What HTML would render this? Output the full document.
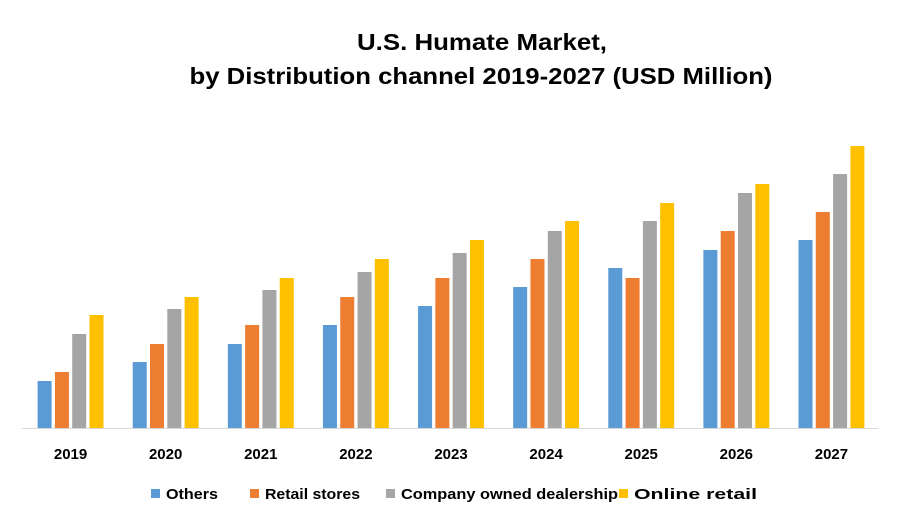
<!DOCTYPE html>
<html><head><meta charset="utf-8"><style>
body{margin:0;background:#fff;font-family:"Liberation Sans",Arial,sans-serif}
</style></head><body>
<svg id="c" width="900" height="525" xmlns="http://www.w3.org/2000/svg">
<text x="482" y="50" text-anchor="middle" font-size="23" font-weight="bold" fill="#000" textLength="250" lengthAdjust="spacingAndGlyphs">U.S. Humate Market,</text>
<text x="481" y="84" text-anchor="middle" font-size="23" font-weight="bold" fill="#000" textLength="583" lengthAdjust="spacingAndGlyphs">by Distribution channel 2019-2027 (USD Million)</text>
<g id="bars"></g>
<line x1="22" y1="428.5" x2="878" y2="428.5" stroke="#d9d9d9" stroke-width="1"/>
<g id="xl"></g>
<g id="lg"></g>
</svg>
<script>
const categories=["2019","2020","2021","2022","2023","2024","2025","2026","2027"];
const others=[47,66,84,103,122,141,160,178,188];
const retail=[56,84,103,131,150,169,150,197,216];
const company=[94,119,138,156,175,197,207,235,254];
const online=[113,131,150,169,188,207,225,244,282];
const seriesNames=["Others","Retail stores","Company owned dealership","Online retail"];
const colors=["#5b9bd5","#ed7d31","#a5a5a5","#ffc000"];
const ns="http://www.w3.org/2000/svg";
const x0=22,x1=878,base=428;
const step=(x1-x0)/categories.length;
function xc(i){return x0+step*(i+0.5)+1;}
function y(v){return base-v;}
const series=[others,retail,company,online];
const bw=14,bs=17.3;
const gb=document.getElementById('bars');
series.forEach((s,k)=>{s.forEach((v,i)=>{
 const r=document.createElementNS(ns,'rect');
 r.setAttribute('x',xc(i)+(k-1.5)*bs-bw/2);
 r.setAttribute('y',y(v));r.setAttribute('width',bw);r.setAttribute('height',base-y(v));
 r.setAttribute('fill',colors[k]);
 
 
 gb.appendChild(r);});});
const gx=document.getElementById('xl');
categories.forEach((c,i)=>{const t=document.createElementNS(ns,'text');
 t.setAttribute('x',xc(i));t.setAttribute('y',459);t.setAttribute('text-anchor','middle');
 t.setAttribute('font-size','15');t.setAttribute('font-weight','bold');t.textContent=c;
 
 
 gx.appendChild(t);});
const lx=[151,250,386,619];
const lw=[52,95,217,123];
const gl=document.getElementById('lg');
seriesNames.forEach((n,k)=>{const g=document.createElementNS(ns,'g');
 
 
 const r=document.createElementNS(ns,'rect');r.setAttribute('x',lx[k]);r.setAttribute('y',489);
 r.setAttribute('width',9);r.setAttribute('height',9);r.setAttribute('fill',colors[k]);g.appendChild(r);
 const t=document.createElementNS(ns,'text');t.setAttribute('x',lx[k]+15);t.setAttribute('y',499);
 t.setAttribute('font-size','15');t.setAttribute('font-weight','bold');
 t.setAttribute('textLength',lw[k]);t.setAttribute('lengthAdjust','spacingAndGlyphs');
 t.textContent=n;g.appendChild(t);
 gl.appendChild(g);});
</script>
</body></html>
